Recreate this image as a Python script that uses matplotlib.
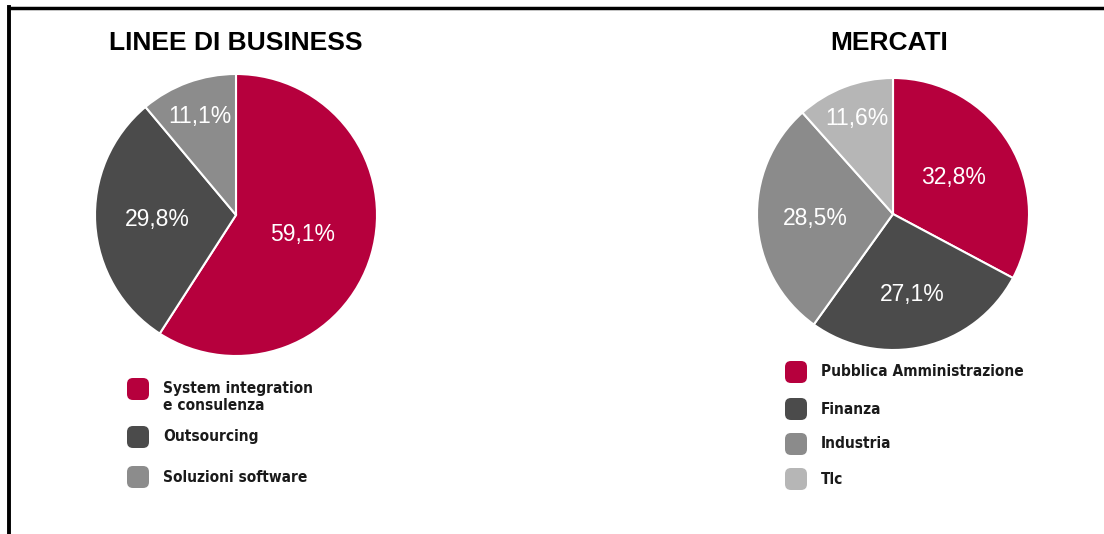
# Ripartizione ricavi: linee di business e mercati
import numpy as np
import matplotlib.pyplot as plt
from matplotlib.lines import Line2D
from matplotlib.patches import FancyBboxPatch
from matplotlib import font_manager

W, H = 1104, 534

business_labels = ["System integration\ne consulenza", "Outsourcing", "Soluzioni software"]
business_values = [59.1, 29.8, 11.1]
business_colors = ["#b6003d", "#4b4b4b", "#8c8c8c"]
business_pct_dist = [0.49, 0.56, 0.74]

market_labels = ["Pubblica Amministrazione", "Finanza", "Industria", "Tlc"]
market_values = [32.8, 27.1, 28.5, 11.6]
market_colors = ["#b6003d", "#4b4b4b", "#8b8b8b", "#b6b6b6"]
market_pct_dist = [0.52, 0.61, 0.57, 0.75]

# look for a condensed bold face for the legends, otherwise plain Liberation Sans
legend_font = font_manager.FontProperties(family="Liberation Sans", weight="bold")
for f in font_manager.fontManager.ttflist:
    tag = (f.name + " " + f.fname).lower()
    if ("narrow" in tag or "condensed" in tag) and f.weight in ("bold", 700):
        legend_font = font_manager.FontProperties(fname=f.fname)
        break

fig = plt.figure(figsize=(W / 100, H / 100), dpi=100)
fig.patch.set_facecolor("white")
renderer = fig.canvas.get_renderer()


def px_axes(cx, cy, r):
    # axes box around a pie, centre / radius in pixels (top-left origin)
    return fig.add_axes([(cx - r) / W, (H - cy - r) / H, 2 * r / W, 2 * r / H])


def draw_pie(ax, values, colors, dists):
    wedges, _, autotexts = ax.pie(values, colors=colors, startangle=90, counterclock=False,
                                  autopct=lambda p: f"{p:.1f}%".replace(".", ","),
                                  wedgeprops=dict(edgecolor="white", linewidth=1.5),
                                  textprops=dict(color="white", fontsize=16.5,
                                                 family="Liberation Sans"))
    for w, t, d in zip(wedges, autotexts, dists):
        ang = np.deg2rad((w.theta1 + w.theta2) / 2)
        t.set_position((d * np.cos(ang), d * np.sin(ang)))
    ax.set_xlim(-1, 1)
    ax.set_ylim(-1, 1)
    ax.set_aspect("equal")
    ax.axis("off")


ax1 = px_axes(236, 215, 141)
draw_pie(ax1, business_values, business_colors, business_pct_dist)
ax2 = px_axes(893, 214, 136)
draw_pie(ax2, market_values, market_colors, market_pct_dist)

# overlay in pixel coords for frame, titles, legends
ov = fig.add_axes([0, 0, 1, 1], zorder=-1)
ov.set_xlim(0, W)
ov.set_ylim(H, 0)
ov.axis("off")
ov.add_line(Line2D([9, W], [7.5, 7.5], color="black", lw=2.5))
ov.add_line(Line2D([9, 9], [6.5, H], color="black", lw=2.8))

ov.text(236, 43, "LINEE DI BUSINESS", ha="center", va="center", fontsize=19,
        fontweight="bold", family="Liberation Sans")
ov.text(889, 43, "MERCATI", ha="center", va="center", fontsize=19,
        fontweight="bold", family="Liberation Sans")

# fit legend font: "Soluzioni software" roughly 145 px wide
probe = ov.text(0, 0, "Soluzioni software", fontproperties=legend_font, fontsize=13)
legend_size = 13 * 145 / probe.get_window_extent(renderer).width
probe.remove()
legend_font.set_size(legend_size)


def draw_legend(x, ys, labels, colors, size=22):
    for y, lab, col in zip(ys, labels, colors):
        s = size - 10
        ov.add_patch(FancyBboxPatch((x - s / 2, y - s / 2), s, s,
                                    boxstyle="round,pad=5,rounding_size=6",
                                    facecolor=col, edgecolor="none"))
        for i, line in enumerate(lab.split("\n")):
            ov.text(x + 25, y + i * 17, line, ha="left", va="center",
                    fontproperties=legend_font, color="#1a1a1a")


draw_legend(138, [389, 437, 477], business_labels, business_colors)
draw_legend(796, [372, 409, 444, 479], market_labels, market_colors)

fig.savefig("out.png", dpi=100)
